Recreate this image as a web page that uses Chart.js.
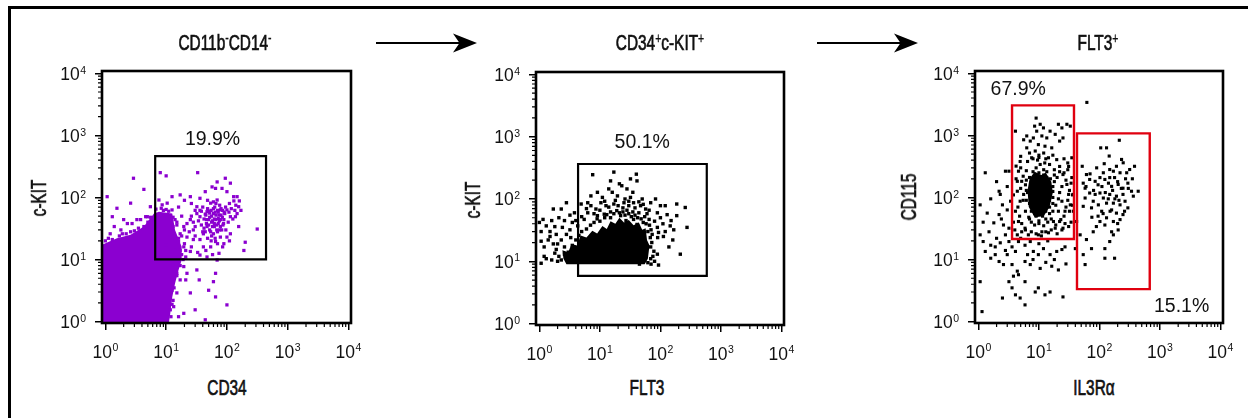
<!DOCTYPE html>
<html lang="en">
<head>
<meta charset="UTF-8">
<title>FLT3 gating</title>
<script src="https://cdn.jsdelivr.net/npm/chart.js"></script>
<style>
  html, body { margin: 0; padding: 0; background: #fff; }
  #fig { position: relative; width: 1248px; height: 418px; overflow: hidden; }
  #frame { position: absolute; left: 8px; top: 6px; width: 1300px; height: 450px;
           border-top: 3px solid #000; border-left: 3px solid #000; }
  canvas { position: absolute; }
  .lbl { position: absolute; font-family: 'Liberation Sans', Arial, sans-serif; font-size: 22px;
         color: #111; white-space: nowrap; line-height: 1; -webkit-text-stroke: 0.7px #111;
         transform: translate(-50%, -50%) scaleX(0.7); }
  .lbl.rot { transform: translate(-50%, -50%) rotate(-90deg) scaleX(0.7); }
  .lbl sup { font-size: 15px; vertical-align: 7px; line-height: 0; -webkit-text-stroke: 0.3px #111; }
</style>
</head>
<body>
<div id="fig">
  <div id="frame"></div>
  <svg width="1248" height="418" style="position:absolute;left:0;top:0">
    <line x1="376" y1="43" x2="462" y2="43" stroke="#000" stroke-width="2"/>
    <path d="M477 43 L453 33.5 L459.5 43 L453 52.5 Z" fill="#000"/>
    <line x1="817" y1="43" x2="903" y2="43" stroke="#000" stroke-width="2"/>
    <path d="M918 43 L894 33.5 L900.5 43 L894 52.5 Z" fill="#000"/>
  </svg>
  <canvas id="c1" width="340" height="320" style="left:40px;top:50px;width:340px;height:320px"></canvas>
  <canvas id="c2" width="340" height="320" style="left:474px;top:50px;width:340px;height:320px"></canvas>
  <canvas id="c3" width="335" height="320" style="left:913px;top:50px;width:335px;height:320px"></canvas>
</div>
<script>
// axis decades and text
const decades = [1, 10, 100, 1000, 10000];
const decadeExp = ['0', '1', '2', '3', '4'];
const panelTitles = ['CD11b<sup>-</sup>CD14<sup>-</sup>', 'CD34<sup>+</sup>c-KIT<sup>+</sup>', 'FLT3<sup>+</sup>'];
const xTitles = ['CD34', 'FLT3', 'IL3R\u03B1'];
const yTitles = ['c-KIT', 'c-KIT', 'CD115'];

// panel 1: CD34 vs c-KIT (purple events)
const p1Events = [
  [2.9,204],[8.0,251],[10,223],[33,251],[69,178],[94,204],[114,170],[4.3,135],[12.5,103],[17,110],
  [25,103],[36,97],[44,124],[57,148],[65,140],[83,140],[100,124],[129,103],[147,103],[156,71],
  [138,49],[156,34],[315,31],[200,19],[190,14],[100,23],[114,26],[89,18],[74,12.6],[69,9.8],
  [47,11],[36,11.8],[32,6.8],[35,4.7],[65,6],[60,4.4],[50,3.2],[65,2.5],[100,1.86],[30,1.55],
  [44,1.07],[16,1.2],[19.5,1.36],[25,2.9],[21,4.7],[22,6],
  [1.07,103],[1.3,49],[1.55,67],[2.6,81],[2.0,44],[2.3,38],[1.4,34],[3.3,44],[4.3,34],[4.9,49],
  [1.9,26],[2.6,28],[1.12,22],
  [10.4,81],[12.5,63],[7.6,91],[8.6,76],[14,44],[17,26],[19.5,16],[13,34],[11.7,23],[9.8,17],
  [25,44],[30,34],[36,49],[47,59],[32,71],[54,81],[69,91],[78,63],[100,63],[114,49],[147,55],
  [60,55],[22,23],[28,21],[41,26],[54,16],[41,16],[25,13.5],[16,11],[13,8.1],[15,6],[12.5,3.2],
  [13,2.2],[11.7,1.55],[8.6,1.07],
  [47,34],[60,26],[78,34],[89,44],[50,44],[65,19.5],[78,23],[36,21],[28,30],[19.5,34],[16,19.5],[21,11],
  [1.2,26],[1.8,30],[2.75,38],[3.8,44],[4.6,49],[5.5,71],[19.5,7.7],[17,4.7],[15,2.9],[13.3,1.74],
  [20,30],[22,38],[24,28],[26,50],[28,40],[30,24],[32,55],[34,42],[38,36],[38,60],[40,28],[42,45],
  [45,52],[46,38],[48,22],[52,30],[52,48],[55,62],[56,40],[58,34],[62,45],[63,70],[66,52],[68,36],
  [70,28],[72,58],[75,42],[76,75],[80,52],[82,30],[85,62],[88,38],[92,55],[95,70],[96,30],[105,40],
  [108,58],[110,80],[118,66],[125,45],[130,88],[135,62],[140,75],[160,88],[170,62],[60,85],[48,90],
  [40,70],[30,62],[26,80],[18,50],[15,40],[16,70],[20,90],[55,20],[45,14],[70,18],[58,12],[85,16],
  [110,20],[26,16],[33,13],[18,24],[14,14],[62,38],[72,46],[52,56],[44,28],[36,62],[66,80],
  [1.0,20],[1.3,21],[1.7,24],[2.2,26],[3.0,29],[3.5,32],[5.0,40],[5.5,48],[9,62],[11,60],[13,48],
  [15,36],[16,22],[17,14],[19,10],[18,12],[17,8],[15,5.5],[13.5,3.5],[12.5,1.9],[12,1.2],[6.8,65],
  [8.3,67],[10,64],[20,18],[21,14],
  [42,32],[46,44],[50,36],[50,60],[54,28],[56,50],[58,42],[60,66],[62,34],[64,58],[66,44],[68,30],
  [70,62],[72,38],[74,52],[76,30],[78,44],[80,66],[84,48],[86,36],[90,58],[56,24],[64,22],[48,66],[44,54]
];
const p1Blob = [[0.85,0.9],[0.85,17],[1.55,22],[2.6,25],[4.3,34],[6.3,55],[7.6,59],[12.6,55],[14,30],
  [18,16],[18,9.8],[16,6.8],[14,4.1],[12.6,2.5],[11.7,1.36],[11,0.9]];
const p1Gates = [[[6.6,10.1],[440,465]]];
const p1Labels = [['19.9%', 58, 870]];

// panel 2: FLT3 vs c-KIT
const p2Events = [
  [7.6,245],[17,270],[40,250],[15,195],[21,175],[23,163],[32,210],[41,195],[14,145],[16,128],
  [28,145],[35,128],[9.1,128],[7.1,112],[11,106],[19.5,112],[32,106],[50,100],[69,87],[83,100],
  [2.8,87],[4.9,83],[6.3,87],[100,78],[120,78],[186,83],[257,73],[129,56],[89,60],[100,50],
  [186,54],[65,47],[145,37],[166,32],[275,35],[89,35],[93,29],[112,25],[138,17],[213,13],
  [89,13],[69,11],[93,8.7],[1.7,69],[2.3,69],[3.8,60],[2.1,50],[2.6,45],[1.6,45],[1.15,47],
  [1.0,42],[1.3,37],[1.07,30],[1.5,30],[1.9,27],[1.4,22],[1.07,21],[1.7,19],[1.2,17],[1.8,13.5],
  [1.3,11],[2.3,10.5],[1.07,9.3],[1.6,10.5],
  [7.1,78],[8.6,69],[10.4,87],[12.6,78],[17,83],[25,87],[30,78],[36,87],[47,78],[57,69],
  [9.1,54],[11.8,57],[15,50],[5.5,47],[6.3,60],[22,54],[27,45],[36,47],[41,39],[4.3,37],
  [3.5,42],[3.2,32],[2.8,27],[2.3,22],[2.0,19],[2.6,17],[3.3,24],[1.9,15.5],[2.1,12],
  [73,27],[69,17],[78,14.5],
  [3,14],[3.5,18],[4,22],[4.5,26],[5,30],[6,33],[7,38],[8,42],[9,48],[10,44],[12,50],[13,56],
  [15,62],[17,58],[19,65],[21,60],[24,62],[26,55],[28,66],[30,58],[33,52],[35,62],[38,55],[42,50],
  [44,60],[48,48],[52,42],[55,52],[58,40],[62,30],[66,38],[68,24],[70,32],[72,20],[75,12],[80,10],
  [62,9.5],[70,9],[45,9],[5,52],[6,70],[8,58],[10,66],[12,92],[14,74],[18,95],[20,78],[24,72],
  [26,100],[30,92],[38,72],[44,90],[52,82],[60,58],[65,66],[80,44],[90,24],[110,40],[120,30],
  [150,45],[160,22],[4,45],[3.2,55],[2.4,35],[1.8,36],[1.5,25],[1.2,12],[2.0,10],[2.6,13]
];
const p2Core = [[2.4,15],[3,14],[3.4,19],[4.2,18],[4.8,26],[6,24],[7.5,31],[9,28],[11,37],[13,33],
  [15,44],[18,40],[21,50],[25,42],[30,46],[36,38],[44,42],[50,32],[57,34],[60,22],[66,18],[62,11],
  [55,9],[2.8,9],[2.5,11]];
const p2Gates = [[[4.36,5.83],[583,364]]];
const p2Labels = [['50.1%', 50, 795]];

// panel 3: IL3Ra vs CD115
const p3Events = [
  [9.0,1900],[8.5,1410],[10.5,1510],[11.9,1320],[9.2,1170],[8.1,910],[11.2,980],[13.5,910],[15.3,1170],
  [21,1510],[24,1320],[29,1510],[33,1410],[18.6,1040],[6.3,980],[7.2,810],[5.6,850],[9.8,710],
  [12.6,670],[16.3,630],[8.7,560],[6.3,630],[22,810],[25,910],[4.1,1170],
  [4.6,265],[5.2,182],[4.4,126],[4.9,87],[4.1,60],[4.6,41],[5.2,28],[4.4,25],[6.7,25],[9.8,25],
  [14.4,27],[18.6,32],[22,41],[27,60],[33,76],[24,87],[31,112],[29,162],[35,209],[25,234],
  [22,316],[31,316],[35,436],[19.7,407],[14.4,436],[4.9,380],[7.6,436],[4.4,182],[5.6,112],
  [21,60],[17.4,41],[25,32],[31,34],[11.2,28],[5.9,32],
  [5,300],[5.5,220],[6,160],[6.5,120],[5.5,90],[6,60],[6.8,48],[7.5,40],[8.5,36],[10,38],[12,35],
  [14,40],[16,45],[17,60],[19,75],[21,95],[22,120],[24,150],[20,210],[22,260],[18,280],[15,340],
  [13,420],[10,440],[8,420],[6.5,380],[5,140],[4.5,70],[4.8,50],[5.2,38],[6,30],[7.5,28],[9,26],
  [11,24],[13,28],[16,30],[19,36],[23,44],[26,50],[28,70],[30,90],[32,130],[28,190],[26,250],
  [30,280],[32,60],[34,40],[27,38],[24,30],[20,26],[9,50],[10,480],[12,520],[17,480],[7,520],
  [5,460],[26,420],[30,360],[34,170],[36,110],[36,75],[4.2,200],[4.2,320],[3.8,110],[3.8,40],[4,30],
  [7,45],[7.5,60],[7,80],[7.5,100],[7,130],[7.5,170],[7,210],[8,260],
  [8.5,55],[8.5,75],[8.5,95],[8.5,120],[8.5,150],[8.5,190],[9,230],[9,300],
  [10,42],[10,58],[10,70],[10,88],[10,110],[10,135],[10,165],[10,200],[10,250],[10.5,340],
  [11.5,50],[11.5,65],[11.5,80],[11.5,100],[11.5,125],[11.5,155],[11.5,185],[12,230],[12,280],
  [13,45],[13,60],[13,75],[13,95],[13,115],[13,140],[13,175],[13.5,210],[13.5,260],
  [15,55],[15,70],[15,90],[15,110],[15,135],[15,165],[15.5,200],
  [17,80],[17,100],[17,125],[17,150],[18,180],[18,230],
  [6.2,90],[6.2,130],[6.2,190],[6.2,270],[9.5,400],[12.5,360],
  [2,180],[1.6,95],[1.2,40],[2.4,45],[3,150],[2,22],[2.8,14],[6.5,12],[8,10],[13,9],[18,10],
  [28,8.5],[14,20],[10,18],[5,22],
  [1.3,250],[1.07,76],[1.4,56],[2.2,126],[2.3,112],[2.8,265],[3.2,265],[2.5,76],[3.4,87],[3.0,63],
  [2.2,53],[1.8,39],[2.6,36],[3.2,32],[1.5,28],[1.07,25],[1.2,19.5],[1.6,17],[1.9,16],[2.3,18.6],
  [2.8,25],[3.2,19.5],[3.6,16],[4.6,19.5],[5.9,17],[7.2,19.5],[8.1,13.5],[9.8,12],[11.9,15],
  [15.3,12],[19.7,13.5],[24,14.5],[27,16],[4.1,13.5],[3.0,12],[1.9,12],[1.3,13.5],[1.6,10.5],
  [2.2,9.3],[2.6,8.3],[3.6,8.3],[4.4,6.5],[5.9,9.3],[7.2,8.3],[10.5,7.2],[16.3,7.8],[21,6.8],
  [3.2,4.4],[3.6,3.5],[4.6,5.7],[5.9,4.4],[8.7,3.0],[12.6,2.7],[15.3,3.0],[4.1,2.7],[2.5,2.4],
  [4.9,2.4],[5.9,1.86],[25,2.5],[9.8,3.5],[3.8,5.4],[1.15,1.45],[1.07,4.4],
  [62,3400],
  [213,835],[105,630],[131,630],[145,465],[232,410],[247,362],[380,318],[191,318],[148,282],
  [170,265],[116,250],[219,250],[282,250],[316,282],[52,318],[61,234],[69,195],[85,182],
  [102,209],[123,195],[148,209],[178,209],[141,170],[159,151],[204,162],[295,170],[245,141],
  [339,126],[437,126],[54,170],[58,141],[69,118],[85,112],[102,118],[116,98],[148,112],
  [191,105],[245,112],[363,105],[58,98],[79,87],[96,76],[131,81],[170,81],[219,76],[265,87],
  [295,68],[54,72],[74,68],[109,60],[159,63],[191,56],[245,53],[131,47],[102,41],[170,41],
  [219,44],[89,34],[123,36],[79,28],[159,28],[204,30],[61,21],[148,19.5],[74,15],[123,15],
  [54,12],[58,8.3],[123,10.5],[178,10.5],[37,112],[37,60],[42,41],[48,25],[40,15],
  [60,150],[80,130],[95,160],[110,150],[125,120],[140,95],[165,130],[200,180],[230,140],[180,95],
  [210,90],[150,60],[115,55],[95,50],[75,48],[270,200],[300,140],[350,200],[120,350],[90,300],
  [70,240],[260,60],[200,38],[170,25]
];
const p3Core = [[7,200],[8.5,260],[11,230],[13,250],[16,180],[17,120],[15,70],[12,50],[8.5,48],
  [6.8,70],[6.5,130]];
const p3Gates = [[[3.6,21.4],[38,3050]], [[42.6,3.34],[678,1077]]];
const p3Labels = [['67.9%', 4.55, 5500], ['15.1%', 2280, 1.73]];

const panels = [
  { id: 'c1', pad: {left: 12, top: 21, right: 29, bottom: 7}, color: '#8B00D0', radius: 2.3,
    events: p1Events, masses: [p1Blob], gates: p1Gates, gateColor: '#000', labels: p1Labels },
  { id: 'c2', pad: {left: 12, top: 22, right: 30, bottom: 5}, color: '#000', radius: 2.4,
    events: p2Events, masses: [p2Core], gates: p2Gates, gateColor: '#000', labels: p2Labels },
  { id: 'c3', pad: {left: 12, top: 21, right: 25, bottom: 7}, color: '#000', radius: 2.2,
    events: p3Events, masses: [p3Core], gates: p3Gates, gateColor: '#E0000F', labels: p3Labels }
];
const textPos = [
  { title: [225, 43], x: [227, 388], y: [39, 198] },
  { title: [660, 43], x: [647, 388], y: [473, 200] },
  { title: [1098, 43], x: [1094, 388], y: [909, 197] }
];

const fig = document.getElementById('fig');
function addText(html, pos, rot) {
  const d = document.createElement('div');
  d.className = rot ? 'lbl rot' : 'lbl';
  d.innerHTML = html;
  d.style.left = pos[0] + 'px';
  d.style.top = pos[1] + 'px';
  fig.appendChild(d);
}
textPos.forEach((p, i) => {
  addText(panelTitles[i], p.title, false);
  addText(xTitles[i], p.x, false);
  addText(yTitles[i], p.y, true);
});

const FONT = "'Liberation Sans', Arial, sans-serif";

// filled dense regions, drawn through the scales' pixel positions
const massFill = {
  id: 'massFill',
  beforeDatasetDraw(chart, args) {
    const ds = chart.data.datasets[args.index];
    if (!ds.massColor) return;
    const {ctx, chartArea: a} = chart;
    const pts = args.meta.data;
    ctx.save();
    ctx.beginPath();
    ctx.rect(a.left, a.top, a.right - a.left, a.bottom - a.top);
    ctx.clip();
    ctx.beginPath();
    pts.forEach((p, i) => i ? ctx.lineTo(p.x, p.y) : ctx.moveTo(p.x, p.y));
    ctx.closePath();
    ctx.fillStyle = ds.massColor;
    ctx.fill();
    ctx.restore();
  }
};

// "10" with a raised exponent, placed at the scale's tick positions
function powerLabel(ctx, exp, x, y, align) {
  ctx.font = '17.5px ' + FONT;
  const wBase = ctx.measureText('10').width;
  ctx.font = '10.5px ' + FONT;
  const wExp = ctx.measureText(exp).width;
  const total = wBase + wExp + 0.5;
  const left = align === 'center' ? x - total / 2 : x - total;
  ctx.textAlign = 'left';
  ctx.textBaseline = 'alphabetic';
  ctx.font = '17.5px ' + FONT;
  ctx.fillText('10', left, y);
  ctx.font = '10.5px ' + FONT;
  ctx.fillText(exp, left + wBase + 0.5, y - 6.3);
}

// plot box, minor log ticks, tick labels, gate percentages
const boxAndText = {
  id: 'boxAndText',
  afterDatasetsDraw(chart, args, opts) {
    const {ctx, chartArea: a, scales: {x, y}} = chart;
    ctx.save();
    ctx.strokeStyle = '#000';
    ctx.lineWidth = 1.2;
    ctx.beginPath();
    for (let k = 0; k < 4; k++) {
      for (let m = 2; m < 10; m++) {
        const v = m * Math.pow(10, k);
        const px = x.getPixelForValue(v);
        ctx.moveTo(px, a.bottom);
        ctx.lineTo(px, a.bottom + 4);
        const py = y.getPixelForValue(v);
        ctx.moveTo(a.left, py);
        ctx.lineTo(a.left - 4, py);
      }
    }
    ctx.stroke();
    ctx.lineWidth = 2.6;
    ctx.strokeRect(a.left, a.top, a.right - a.left, a.bottom - a.top);
    ctx.fillStyle = '#111';
    x.ticks.forEach((t, i) => powerLabel(ctx, decadeExp[i], x.getPixelForValue(t.value), a.bottom + 34.5, 'center'));
    y.ticks.forEach((t, i) => powerLabel(ctx, decadeExp[i], a.left - 16, y.getPixelForValue(t.value) + 6.5, 'right'));
    ctx.font = '19.5px ' + FONT;
    ctx.textAlign = 'center';
    ctx.textBaseline = 'middle';
    opts.labels.forEach(([t, vx, vy]) => {
      ctx.fillText(t, x.getPixelForValue(vx), y.getPixelForValue(vy));
    });
    ctx.restore();
  }
};

function logAxis(horizontal) {
  return {
    type: 'logarithmic',
    position: horizontal ? 'bottom' : 'left',
    min: horizontal ? 0.88 : 0.95,
    max: horizontal ? 11000 : 10900,
    afterBuildTicks: s => { s.ticks = decades.map(v => ({value: v})); },
    afterFit: s => { if (horizontal) s.height = 40; else s.width = 50; },
    grid: {drawOnChartArea: false, drawTicks: true, tickLength: 7, color: '#000', lineWidth: 1.5},
    border: {display: false},
    ticks: { display: false, autoSkip: false }
  };
}

const toXY = arr => arr.map(([x, y]) => ({x, y}));

panels.forEach(p => {
  const datasets = [];
  p.gates.forEach(([[x0, y0], [x1, y1]]) => {
    datasets.push({
      data: toXY([[x0, y0], [x1, y0], [x1, y1], [x0, y1], [x0, y0]]),
      showLine: true, fill: false, borderColor: p.gateColor, borderWidth: p.gateColor === '#000' ? 2.2 : 2.4,
      borderJoinStyle: 'miter', borderCapStyle: 'square', pointRadius: 0, tension: 0
    });
  });
  datasets.push({
    data: toXY(p.events), showLine: false, pointStyle: 'rect',
    pointRadius: p.radius, backgroundColor: p.color, borderWidth: 0
  });
  p.masses.forEach(m => {
    datasets.push({ data: toXY(m), showLine: false, pointRadius: 0, massColor: p.color });
  });

  new Chart(document.getElementById(p.id), {
    type: 'scatter',
    data: { datasets },
    options: {
      responsive: false,
      animation: false,
      layout: { padding: p.pad },
      plugins: {
        legend: { display: false },
        tooltip: { enabled: false },
        boxAndText: { labels: p.labels }
      },
      scales: { x: logAxis(true), y: logAxis(false) }
    },
    plugins: [massFill, boxAndText]
  });
});
</script>
</body>
</html>
